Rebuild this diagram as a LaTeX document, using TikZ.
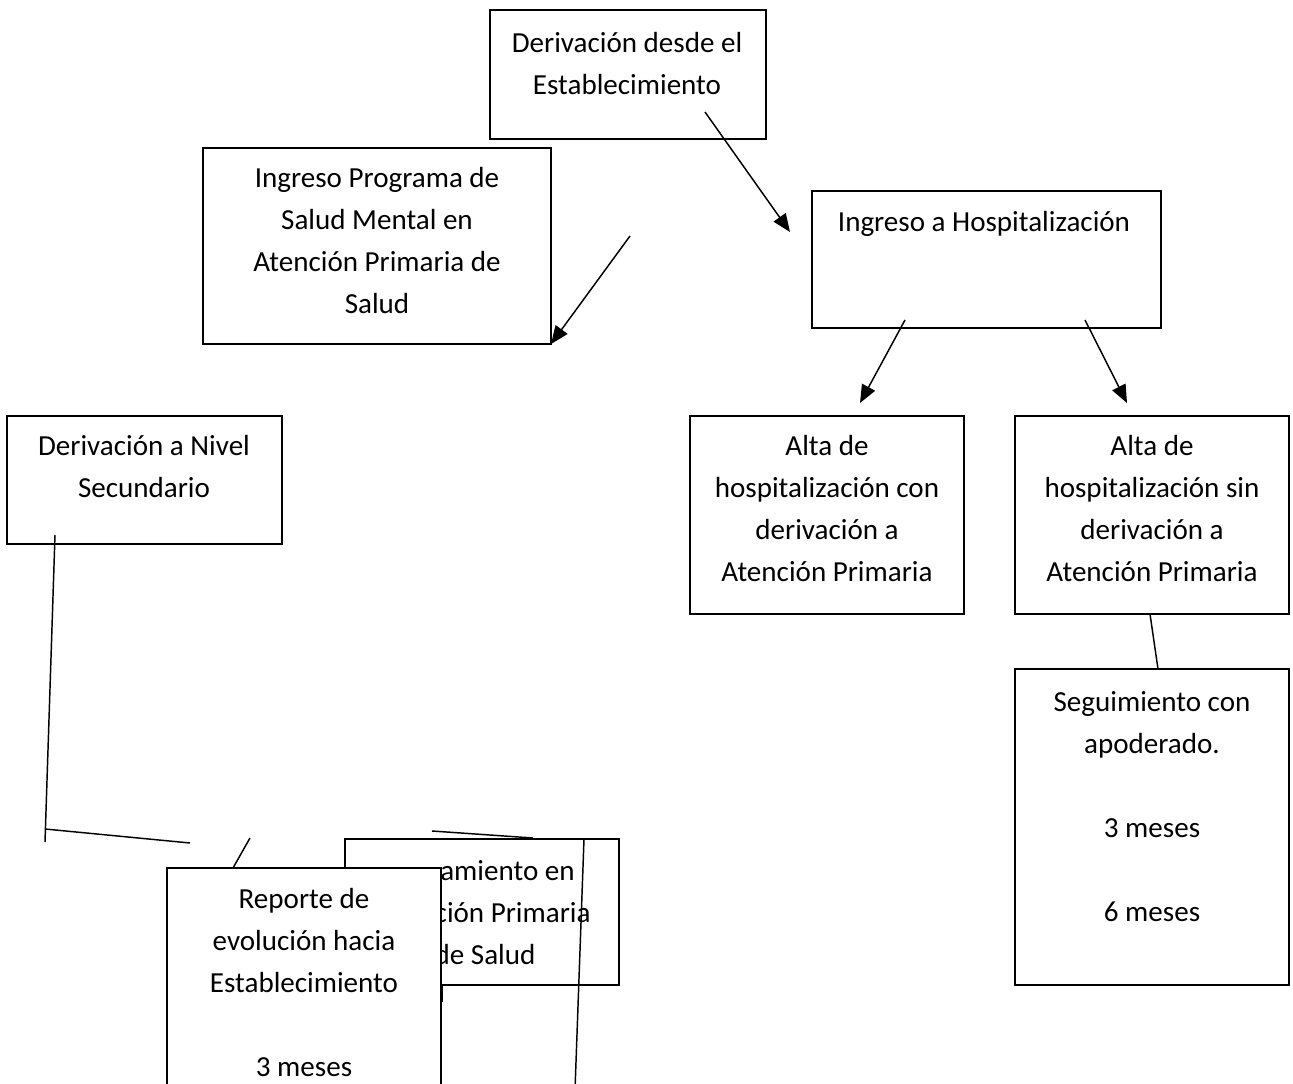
\documentclass[tikz,border=0pt]{standalone}
\usepackage{fontspec}
\setmainfont{Carlito}
\usetikzlibrary{arrows.meta}
\begin{document}
\begin{tikzpicture}[x=0.75pt,y=-0.75pt,
  box/.style={draw,line width=1.1pt,fill=white,anchor=north west,inner sep=0pt,outer sep=0pt},
  txt/.style={anchor=north,inner sep=0pt,align=center,font=\fontsize{21.8}{31.5}\selectfont},
  conn/.style={line width=1.1pt},
  arr/.style={conn,-{Triangle[length=13.5pt,width=11pt]}}]
\useasboundingbox (0,0) rectangle (1293,1084);
\clip (0,0) rectangle (1293,1084);

% boxes
\node[box,minimum width=276*0.75pt,minimum height=129*0.75pt] (b1) at (490,10) {};
\node[txt] (b1t) at (627,22.6) {\strut Derivación desde el\\Establecimiento};

\node[box,minimum width=348*0.75pt,minimum height=196*0.75pt] (b2) at (203,148) {};
\node[txt] (b2t) at (377,157.8) {\strut Ingreso Programa de\\Salud Mental en\\Atención Primaria de\\Salud};

\node[box,minimum width=349*0.75pt,minimum height=137*0.75pt] (b3) at (812,191) {};
\node[txt] (b3t) at (984,201.6) {\strut Ingreso a Hospitalización};

\node[box,minimum width=274*0.75pt,minimum height=198*0.75pt] (b4) at (690,416) {};
\node[txt] (b4t) at (827,425.6) {\strut Alta de\\hospitalización con\\derivación a\\Atención Primaria};

\node[box,minimum width=274*0.75pt,minimum height=198*0.75pt] (b5) at (1015,416) {};
\node[txt] (b5t) at (1152,425.6) {\strut Alta de\\hospitalización sin\\derivación a\\Atención Primaria};

\node[box,minimum width=274*0.75pt,minimum height=316*0.75pt] (b6) at (1015,669) {};
\node[txt] (b6t) at (1152,681.6) {\strut Seguimiento con\\apoderado.\\\strut\\3 meses\\\strut\\6 meses};

\node[box,minimum width=275*0.75pt,minimum height=128*0.75pt] (b7) at (7,416) {};
\node[txt] (b7t) at (144,425.6) {\strut Derivación a Nivel\\Secundario};

\node[box,minimum width=274*0.75pt,minimum height=146*0.75pt] (b8) at (345,839) {};

% coordinates for free ends
\coordinate (a1s) at (705,112);  \coordinate (a1e) at (790,232);
\coordinate (a2s) at (630,236);  \coordinate (a2e) at (551,344);
\coordinate (a3s) at (905,320);  \coordinate (a3e) at (860,403);
\coordinate (a4s) at (1085,320); \coordinate (a4e) at (1127,403);
\coordinate (l5s) at (1150,614); \coordinate (l5e) at (1158,669);
\coordinate (l6a) at (55,535);   \coordinate (l6b) at (45,842);
\coordinate (l6c) at (45,829);   \coordinate (l6d) at (190,843);
\coordinate (l7s) at (250,838);  \coordinate (l7e) at (233,868);
\coordinate (l8s) at (432,831);  \coordinate (l8e) at (533,838);
\coordinate (l9s) at (584,839);  \coordinate (l9e) at (575,1090);
\coordinate (l10s) at (442,985); \coordinate (l10e) at (442,1002);

\draw[arr] (a1s) -- (a1e);
\draw[arr] (a2s) -- (a2e);
\draw[arr] (a3s) -- (a3e);
\draw[arr] (a4s) -- (a4e);
\draw[conn] (l5s) -- (l5e);
\draw[conn] (l6a) -- (l6b);
\draw[conn] (l6c) -- (l6d);
\draw[conn] (l7s) -- (l7e);
\draw[conn] (l8s) -- (l8e);
\draw[conn] (l10s) -- (l10e);

\node[box,minimum width=274*0.75pt,minimum height=240*0.75pt] (b9) at (167,868) {};
\node[txt] (b9t) at (304,878.6) {\strut Reporte de\\evolución hacia\\Establecimiento\\\strut\\3 meses};

\begin{scope}
  \clip (442.5,840) rectangle (619,984);
  \node[txt] (b8t) at (485,850.6) {\strut Tratamiento en\\Atención Primaria\\de Salud};
\end{scope}
\draw[conn] (l9s) -- (l9e);
\end{tikzpicture}
\end{document}
